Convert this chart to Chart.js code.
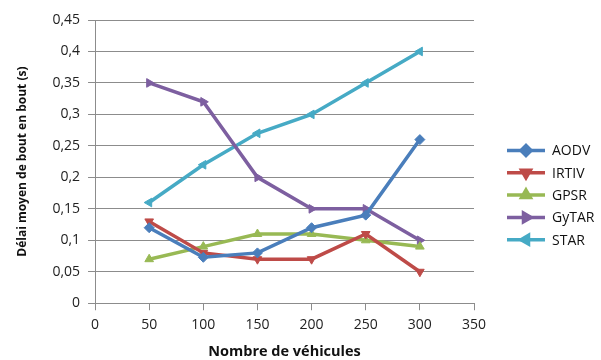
<!DOCTYPE html>
<html>
<head>
<meta charset="utf-8">
<script src="https://cdn.jsdelivr.net/npm/chart.js@4/dist/chart.umd.min.js"></script>
<style>
  html, body { margin: 0; padding: 0; background: #fff; }
  #wrap { width: 601px; height: 360px; }
</style>
</head>
<body>
<div id="wrap"><canvas id="delayChart" width="601" height="360"></canvas></div>
<script>
const vehicles = [50, 100, 150, 200, 250, 300];
const aodv  = [0.12, 0.073, 0.08, 0.12, 0.14, 0.26];
const irtiv = [0.13, 0.08, 0.07, 0.07, 0.11, 0.05];
const gpsr  = [0.07, 0.09, 0.11, 0.11, 0.10, 0.09];
const gytar = [0.35, 0.32, 0.20, 0.15, 0.15, 0.10];
const star  = [0.16, 0.22, 0.27, 0.30, 0.35, 0.40];

const protocols = [
    { name: "AODV",  values: aodv,  color: "#4a7ebb", style: "rectRot",  rot: 0 },
    { name: "IRTIV", values: irtiv, color: "#be4b48", style: "triangle", rot: 180 },
    { name: "GPSR",  values: gpsr,  color: "#98b954", style: "triangle", rot: 0 },
    { name: "GyTAR", values: gytar, color: "#7d5fa0", style: "triangle", rot: 90 },
    { name: "STAR",  values: star,  color: "#46aac5", style: "triangle", rot: -90 }
];

const frComma = v => String(Math.round(v * 100) / 100).replace(".", ",");
const gridGray = "#8c8c8c";
const font = "'Open Sans', 'Liberation Sans', sans-serif";

// legend on the right: short line with the marker in the middle
const sideLegend = {
    id: "sideLegend",
    afterDraw(chart) {
        const ctx = chart.ctx;
        const x0 = 507, x1 = 545;
        chart.data.datasets.forEach((ds, i) => {
            const y = 150.5 + i * 22.3;
            ctx.save();
            ctx.strokeStyle = ds.borderColor;
            ctx.lineWidth = 3.5;
            ctx.beginPath();
            ctx.moveTo(x0, y);
            ctx.lineTo(x1, y);
            ctx.stroke();
            ctx.fillStyle = ds.borderColor;
            Chart.helpers.drawPoint(ctx, {
                pointStyle: ds.pointStyle, radius: 5, rotation: ds.pointRotation, borderWidth: 1
            }, (x0 + x1) / 2, y);
            ctx.fillStyle = "#111";
            ctx.font = "14px " + font;
            ctx.textBaseline = "middle";
            ctx.fillText(ds.label, 552, y + 1);
            ctx.restore();
        });
    }
};

new Chart(document.getElementById("delayChart"), {
    type: "line",
    data: {
        datasets: protocols.map(p => ({
            label: p.name,
            data: vehicles.map((v, i) => ({ x: v, y: p.values[i] })),
            borderColor: p.color,
            backgroundColor: p.color,
            borderWidth: 3.5,
            pointStyle: p.style,
            pointRotation: p.rot,
            pointRadius: 5,
            pointBorderWidth: 1,
            tension: 0
        }))
    },
    plugins: [sideLegend],
    options: {
        responsive: false,
        animation: false,
        layout: { padding: { left: 15, top: 20, right: 127, bottom: 0 } },
        plugins: { legend: { display: false }, tooltip: { enabled: false } },
        scales: {
            x: {
                type: "linear",
                min: 0,
                max: 350,
                ticks: { stepSize: 50, color: "#222", font: { family: font, size: 14 }, padding: 6 },
                grid: { drawOnChartArea: false, color: gridGray, tickLength: 7 },
                border: { color: gridGray },
                title: {
                    display: true,
                    text: "Nombre de véhicules",
                    color: "#111",
                    font: { family: font, size: 14.5, weight: "bold", lineHeight: 1.1 },
                    padding: { top: 5, bottom: 0 }
                }
            },
            y: {
                min: 0,
                max: 0.45,
                ticks: {
                    stepSize: 0.05,
                    color: "#222",
                    font: { family: font, size: 14 },
                    padding: 8,
                    callback: v => frComma(v)
                },
                grid: { color: gridGray, tickLength: 7 },
                border: { color: gridGray },
                title: {
                    display: true,
                    text: "Délai moyen de bout en bout (s)",
                    color: "#111",
                    font: { family: font, size: 12, weight: "bold" },
                    padding: { top: 0, bottom: 15 }
                }
            }
        }
    }
});
</script>
</body>
</html>
